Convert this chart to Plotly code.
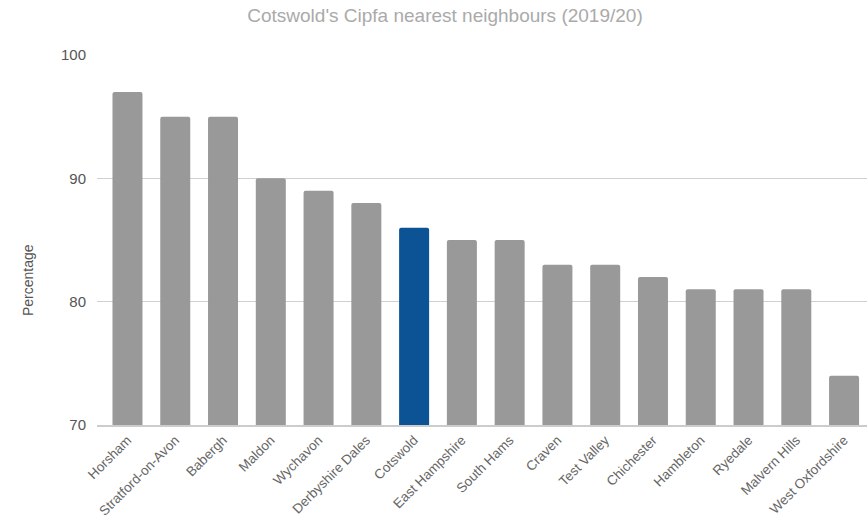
import plotly.graph_objects as go

# Cipfa nearest neighbours for Cotswold, 2019/20
authorities = [
    "Horsham", "Stratford-on-Avon", "Babergh", "Maldon", "Wychavon",
    "Derbyshire Dales", "Cotswold", "East Hampshire", "South Hams", "Craven",
    "Test Valley", "Chichester", "Hambleton", "Ryedale", "Malvern Hills",
    "West Oxfordshire",
]
percentages = [97, 95, 95, 90, 89, 88, 86, 85, 85, 83, 83, 82, 81, 81, 81, 74]
highlight = "Cotswold"

y_ticks = [70, 80, 90, 100]

bar_colors = ["#0b5394" if a == highlight else "#999999" for a in authorities]

W, H = 867, 522
left, right, top, bottom = 97, 0, 55, 97

fig = go.Figure(
    go.Bar(
        x=list(range(len(authorities))),
        y=percentages,
        width=0.628,
        marker=dict(color=bar_colors, line=dict(width=0), cornerradius=2),
        hovertext=authorities,
        hoverinfo="text+y",
    )
)

fig.update_layout(
    width=W,
    height=H,
    margin=dict(l=left, r=right, t=top, b=bottom),
    paper_bgcolor="white",
    plot_bgcolor="white",
    showlegend=False,
    font=dict(family="Liberation Sans, Arial, sans-serif", color="#555555"),
    title=dict(
        text="Cotswold's Cipfa nearest neighbours (2019/20)",
        x=445 / W,
        xanchor="center",
        y=1 - 15 / H,
        yanchor="middle",
        font=dict(size=19, color="#aaaaaa"),
    ),
    annotations=[
        dict(
            text="Percentage",
            xref="paper", yref="paper",
            x=-(left - 28) / (W - left - right),
            y=(H - bottom - 280) / (H - top - bottom),
            xanchor="center", yanchor="middle",
            textangle=-90,
            showarrow=False,
            font=dict(size=14, color="#555555"),
        )
    ],
)

fig.update_yaxes(
    range=[70, 100],
    tickvals=y_ticks,
    ticktext=[str(v) for v in y_ticks],
    showgrid=True,
    gridcolor="#d0d0d0",
    gridwidth=1,
    zeroline=False,
    showline=False,
    ticks="",
    ticklabelstandoff=10,
    tickfont=dict(size=15, color="#555555"),
)

fig.update_xaxes(
    range=[-0.638, 15.48],
    tickvals=list(range(len(authorities))),
    ticktext=authorities,
    tickangle=-45,
    tickfont=dict(size=13.5, color="#666666"),
    showgrid=False,
    showline=True,
    linecolor="#cccccc",
    linewidth=2,
    ticks="",
)

fig.write_html("out.html")
